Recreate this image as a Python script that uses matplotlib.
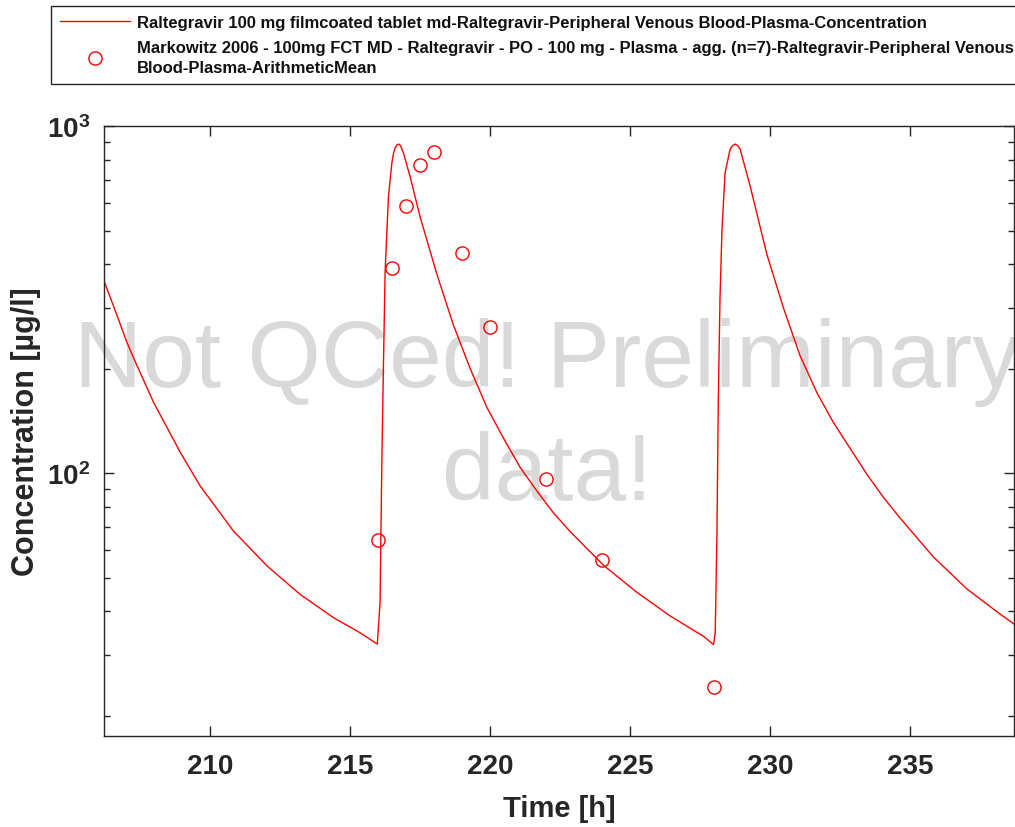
import matplotlib
matplotlib.use("Agg")
import matplotlib.pyplot as plt
from matplotlib.lines import Line2D
from matplotlib.ticker import NullFormatter, NullLocator, LogLocator

plt.rcParams["font.family"] = ["Liberation Sans", "DejaVu Sans"]
plt.rcParams["mathtext.fontset"] = "custom"
plt.rcParams["mathtext.rm"] = "Liberation Sans:bold"
plt.rcParams["mathtext.bf"] = "Liberation Sans:bold"

# simulated curve (time [h], concentration [ug/l])
sim_time = [206.21, 206.55, 207.03, 207.32, 207.98, 208.93, 209.64, 210.83,
            212.03, 213.21, 214.40, 215.36, 215.97, 216.07, 216.13, 216.19,
            216.25, 216.37, 216.49, 216.55, 216.61, 216.67, 216.73, 216.80,
            216.90, 217.14, 217.50, 218.10, 218.69, 219.29, 219.88, 220.48,
            221.07, 221.67, 222.26, 222.86, 224.05, 225.24, 226.43, 227.62,
            227.98, 228.04, 228.10, 228.15, 228.21, 228.28, 228.39, 228.57,
            228.66, 228.75, 228.84, 228.93, 229.29, 229.88, 230.48, 231.07,
            231.67, 232.26, 232.86, 233.45, 234.05, 234.64, 235.83, 237.03,
            238.21, 238.75]
sim_conc = [358, 303, 238, 210, 160, 115, 92, 68.2,
            54.1, 44.8, 38.4, 34.7, 32.2, 42.5, 104, 204,
            382, 627, 783, 834, 866, 882, 887, 878,
            838, 716, 547, 374, 267, 200, 155, 126,
            104, 88.9, 76.9, 67.9, 54.3, 45.4, 38.8, 33.9,
            32.1, 34.7, 66.4, 163, 319, 500, 732, 857,
            878, 887, 878, 857, 670, 428, 298.5, 218,
            170.6, 140, 117.8, 99.5, 85.1, 74.3, 57.4, 46.4,
            39.3, 36.6]

# observed means
obs_time = [216, 216.5, 217, 217.5, 218, 219, 220, 222, 224, 228]
obs_conc = [64.3, 391, 589, 771, 841, 430, 264, 96.2, 56.1, 24.2]

sim_label = ("Raltegravir 100 mg filmcoated tablet md-Raltegravir-"
             "Peripheral Venous Blood-Plasma-Concentration")
obs_label = ("Markowitz 2006 - 100mg FCT MD - Raltegravir - PO - 100 mg - "
             "Plasma - agg. (n=7)-Raltegravir-Peripheral Venous\n"
             "Blood-Plasma-ArithmeticMean")
x_ticks = [210, 215, 220, 225, 230, 235]
y_ticks = [100, 1000]
y_tick_labels = [r"$\mathbf{10^{2}}$", r"$\mathbf{10^{3}}$"]
watermark = "Not QCed! Preliminary\ndata!"

AX_COLOR = "#262626"


def main():
    fig = plt.figure(figsize=(10.15, 8.28), dpi=100)
    ax = fig.add_axes([104 / 1015, 1 - 737 / 828, 910 / 1015, 610 / 828])

    ax.text(0.487, 0.521, watermark, transform=ax.transAxes, ha="center",
            va="center", fontsize=68, color="#d9d9d9", linespacing=1.34,
            clip_on=False, zorder=0.5)

    ax.plot(sim_time, sim_conc, color="red", lw=1.0, zorder=2,
            solid_joinstyle="round")
    ax.plot(obs_time, obs_conc, ls="none", marker="o", ms=9.5, mfc="none",
            mec="red", mew=1.0, zorder=3)

    ax.set_yscale("log")
    ax.set_xlim(206.21, 238.71)
    ax.set_ylim(17.5, 1000)
    ax.set_xticks(x_ticks)
    ax.set_xticklabels([str(t) for t in x_ticks])
    ax.xaxis.set_minor_locator(NullLocator())
    ax.set_yticks(y_ticks)
    ax.set_yticklabels(y_tick_labels)
    ax.yaxis.set_minor_locator(LogLocator(base=10, subs=range(2, 10)))
    ax.yaxis.set_minor_formatter(NullFormatter())

    ax.tick_params(which="both", direction="in", top=True, right=True,
                   color=AX_COLOR, labelcolor=AX_COLOR, width=1.0)
    ax.tick_params(which="major", length=7, labelsize=20)
    ax.tick_params(axis="x", which="major", pad=12)
    ax.tick_params(axis="y", which="major", pad=10)
    ax.tick_params(which="minor", length=4)
    for lbl in ax.get_xticklabels():
        lbl.set_fontweight("bold")
    for sp in ax.spines.values():
        sp.set_color(AX_COLOR)
        sp.set_linewidth(1.0)

    ax.set_xlabel("Time [h]", fontsize=21, fontweight="bold", color=AX_COLOR,
                  labelpad=11)
    ax.set_ylabel("Concentration [µg/l]", fontsize=22, fontweight="bold",
                  color=AX_COLOR, labelpad=4)

    handles = [
        Line2D([], [], color="red", lw=1.0),
        Line2D([], [], ls="none", marker="o", ms=9.5, mfc="none", mec="red",
               mew=1.0),
    ]
    leg = ax.legend(handles, [sim_label, obs_label], loc="upper left",
                    bbox_to_anchor=(51 / 1015, 1 - 6.5 / 828),
                    bbox_transform=fig.transFigure,
                    prop={"family": "Liberation Sans", "weight": "bold",
                          "size": 12},
                    frameon=True, fancybox=False, framealpha=1,
                    edgecolor=AX_COLOR, handlelength=4.2, handletextpad=0.42,
                    borderaxespad=0, borderpad=0.55, labelspacing=0.63)
    leg.get_frame().set_linewidth(1.0)
    for txt in leg.get_texts():
        txt.set_color("#111111")
        txt.set_linespacing(1.37)

    fig.savefig("out.png", dpi=100)
    plt.close(fig)


if __name__ == "__main__":
    main()
